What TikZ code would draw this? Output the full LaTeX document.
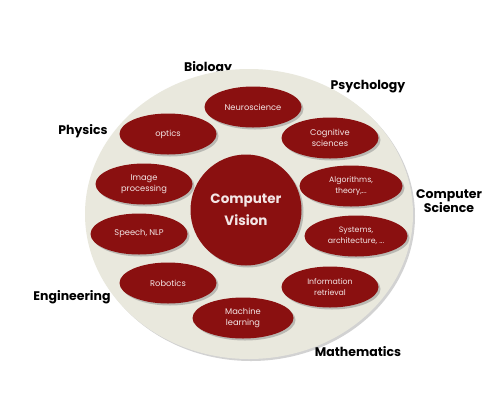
\documentclass[tikz,border=0pt]{standalone}
\usepackage{fontspec}
\setmainfont{Poppins}
\usetikzlibrary{shapes.geometric,shadows}
\definecolor{cvred}{HTML}{8A1010}
\definecolor{cvbeige}{HTML}{E9E8DD}
\definecolor{cvtext}{HTML}{F3E6E6}
\tikzset{
  field/.style={font=\fontsize{12.5}{14}\selectfont\bfseries, text=black, align=center, inner sep=0pt},
  topic/.style={ellipse, fill=cvred, minimum width=97pt, minimum height=41pt, inner sep=0pt,
     text=cvtext, font=\fontsize{8.3}{11.5}\selectfont, align=center,
     drop shadow={shadow xshift=2pt, shadow yshift=-2pt, opacity=0.45, fill=gray}},
  core/.style={circle, fill=cvred, minimum size=111pt, inner sep=0pt, text=cvtext,
     font=\fontsize{13.5}{22}\selectfont\bfseries, align=center,
     drop shadow={shadow xshift=2pt, shadow yshift=-2pt, opacity=0.45, fill=gray}},
  disc/.style={ellipse, fill=cvbeige, minimum width=328pt, minimum height=290pt, inner sep=0pt,
     drop shadow={shadow xshift=2pt, shadow yshift=-2pt, opacity=0.35, fill=gray}}
}
\begin{document}
\begin{tikzpicture}[x=1pt,y=-1pt]
\useasboundingbox[fill=white] (0,0) rectangle (500,400);
% outer labels (Biology partly hidden by the disc)
\node[field] (bio) at (208,68) {Biology};
\node[disc] (disc) at (249,214) {};
\node[field] (psy) at (368,87) {Psychology};
\node[field] (phy) at (83,131) {Physics};
\node[field] (cs) at (449,201) {Computer\\Science};
\node[field] (eng) at (72,297) {Engineering};
\node[field] (math) at (358,352) {Mathematics};
% topics
\node[core] (cv) at (246,210) {Computer\\Vision};
\node[topic] (neuro) at (253,107) {Neuroscience};
\node[topic] (optics) at (168,134) {optics};
\node[topic] (cog) at (330,138) {Cognitive\\sciences};
\node[topic] (img) at (144,184) {Image\\processing};
\node[topic, minimum width=103pt, font=\fontsize{7.8}{10.5}\selectfont] (alg) at (351,186) {Algorithms,\\theory,...};
\node[topic] (speech) at (139,234) {Speech, NLP};
\node[topic, minimum width=103pt, font=\fontsize{7.8}{10.5}\selectfont] (sys) at (356,236) {Systems,\\architecture, ...};
\node[topic] (rob) at (168,283) {Robotics};
\node[topic, font=\fontsize{7.8}{10.5}\selectfont] (ir) at (330,287) {Information\\retrieval};
\node[topic, minimum width=101pt] (ml) at (243,318) {Machine\\learning};
\end{tikzpicture}
\end{document}
